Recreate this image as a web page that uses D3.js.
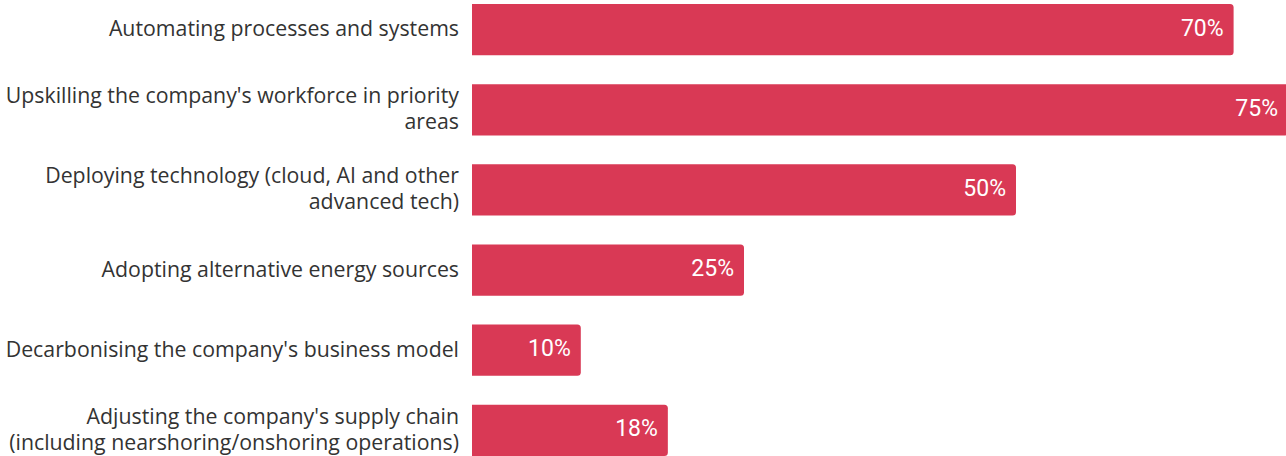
<!DOCTYPE html>
<html>
<head>
<meta charset="utf-8">
<script src="https://cdn.jsdelivr.net/npm/d3@7"></script>
<style>
  html, body { margin: 0; padding: 0; background: #ffffff; }
  svg { display: block; }
</style>
</head>
<body>
<svg id="chart" width="1286" height="456"></svg>
<script>
// Share of companies prioritising each transformation area
const categories = [
  ["Automating processes and systems"],
  ["Upskilling the company's workforce in priority", "areas"],
  ["Deploying technology (cloud, AI and other", "advanced tech)"],
  ["Adopting alternative energy sources"],
  ["Decarbonising the company's business model"],
  ["Adjusting the company's supply chain", "(including nearshoring/onshoring operations)"]
];
const values = [70, 75, 50, 25, 10, 18];
const valueLabels = ["70%", "75%", "50%", "25%", "10%", "18%"];

const width = 1286, height = 456;
const barLeft = 472;
const barColor = "#d93955";

const svg = d3.select("#chart");

const y = d3.scaleBand()
  .domain(d3.range(values.length))
  .range([4, 456])
  .paddingInner(0.36)
  .paddingOuter(0);

const x = d3.scaleLinear()
  .domain([0, 75])
  .range([barLeft, 1288]);

// Bar shape: square on the left, rounded on the right
function barPath(x0, x1, y0, h, r) {
  r = Math.min(r, (x1 - x0) / 2, h / 2);
  return `M${x0},${y0}H${x1 - r}Q${x1},${y0} ${x1},${y0 + r}` +
         `V${y0 + h - r}Q${x1},${y0 + h} ${x1 - r},${y0 + h}H${x0}Z`;
}

const rows = svg.selectAll("g.row")
  .data(values)
  .join("g")
  .attr("class", "row");

rows.append("path")
  .attr("d", (d, i) => barPath(x(0), x(d), y(i), y.bandwidth(), 3.5))
  .attr("fill", barColor);

rows.append("text")
  .attr("x", d => x(d) - 10)
  .attr("y", (d, i) => y(i) + y.bandwidth() / 2 + 6)
  .attr("text-anchor", "end")
  .attr("fill", "#ffffff")
  .attr("font-family", "Roboto, sans-serif")
  .attr("font-size", 23)
  .text((d, i) => valueLabels[i]);

// Category labels, right-aligned against the bars
const lineHeight = 26;
rows.append("text")
  .attr("text-anchor", "end")
  .attr("fill", "#333333")
  .attr("font-family", "'Open Sans', sans-serif")
  .attr("font-size", 21.3)
  .each(function(d, i) {
    const lines = categories[i];
    const cy = y(i) + y.bandwidth() / 2 - 1;
    const startY = cy - (lines.length - 1) * lineHeight / 2;
    d3.select(this).selectAll("tspan")
      .data(lines)
      .join("tspan")
      .attr("x", barLeft - 13)
      .attr("y", (l, j) => startY + j * lineHeight)
      .attr("dy", "0.35em")
      .text(l => l);
  });
</script>
</body>
</html>
